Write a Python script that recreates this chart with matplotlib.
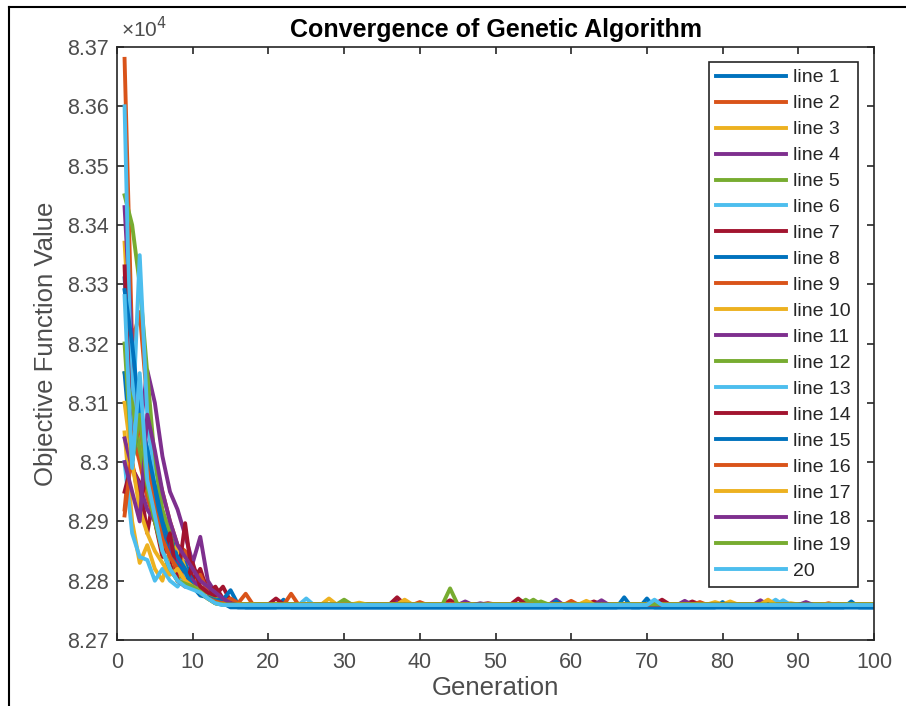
import matplotlib
matplotlib.use("Agg")
import matplotlib.pyplot as plt
from matplotlib.lines import Line2D
from matplotlib.ticker import FuncFormatter, MultipleLocator

# colour order of the lines (MATLAB default palette, repeats every 7)
colors = ["#0072BD", "#D95319", "#EDB120", "#7E2F8E", "#77AC30", "#4DBEEE", "#A2142F"]

generations = list(range(1, 101))
labels = ["line %d" % i for i in range(1, 20)] + ["20"]

# early part of each run (generation 1 onward)
early = [
    [83310, 83150, 83050, 83000, 82960, 82900, 82880, 82840, 82830, 82800, 82790, 82780, 82770, 82762, 82758],
    [83680, 83200, 83253, 83100, 83000, 82950, 82900, 82860, 82850, 82820, 82810, 82790, 82775, 82765, 82760],
    [83370, 83150, 83050, 82950, 82900, 82880, 82840, 82860, 82820, 82800, 82790, 82780, 82770, 82762],
    [83430, 83200, 83050, 83155, 83100, 83010, 82950, 82920, 82877, 82830, 82874, 82800, 82780, 82770, 82762],
    [83450, 83400, 83300, 83150, 83000, 82920, 82880, 82820, 82810, 82800, 82790, 82780, 82770, 82762],
    [83600, 83050, 83349, 83080, 82950, 82880, 82840, 82820, 82800, 82790, 82780, 82770, 82762],
    [83330, 82990, 82965, 82880, 82955, 82870, 82840, 82800, 82897, 82800, 82820, 82780, 82790, 82770, 82762],
    [83290, 83200, 83080, 83020, 82960, 82900, 82860, 82840, 82820, 82800, 82790, 82780, 82768, 82762],
    [82920, 83050, 83000, 82940, 82900, 82870, 82850, 82820, 82800, 82790, 82810, 82780, 82770, 82762],
    [83050, 82900, 82830, 82860, 82820, 82800, 82850, 82810, 82800, 82790, 82780, 82770, 82762],
    [83040, 82990, 82960, 82920, 82900, 82880, 82850, 82830, 82810, 82800, 82790, 82780, 82770, 82762],
    [83150, 83100, 83020, 82960, 82900, 82850, 82820, 82800, 82810, 82790, 82785, 82780, 82770, 82762],
    [83000, 82880, 82840, 82835, 82800, 82820, 82800, 82790, 82810, 82790, 82780, 82770, 82762],
    [82950, 83000, 82930, 82980, 82900, 82840, 82880, 82800, 82790, 82830, 82790, 82780, 82775, 82790, 82765],
    [83150, 83000, 83080, 83020, 82950, 82880, 82840, 82825, 82815, 82790, 82775, 82772, 82767, 82768, 82784, 82760],
    [82910, 83020, 83060, 82990, 82920, 82870, 82840, 82820, 82800, 82790, 82780, 82770, 82765, 82762, 82770, 82762, 82778],
    [83100, 83000, 82920, 82880, 82850, 82830, 82810, 82820, 82800, 82790, 82780, 82770, 82762],
    [83000, 82950, 82900, 83080, 83020, 82950, 82900, 82860, 82840, 82820, 82800, 82790, 82780, 82770, 82762],
    [83200, 83000, 83080, 82960, 82900, 82850, 82820, 82800, 82795, 82790, 82780, 82770, 82762],
    [83280, 82990, 83150, 82970, 82910, 82850, 82820, 82800, 82790, 82785, 82780, 82770, 82762],
]

# value each run settles at
final_vals = [82755, 82759, 82760, 82759, 82760, 82759, 82760,
              82755, 82759, 82760, 82759, 82760, 82759, 82760,
              82755, 82759, 82760, 82759, 82760, 82759]

# small late bumps: (generation, value) per run
bumps = [
    [(22, 82768), (80, 82764)],
    [(23, 82778), (60, 82766)],
    [(28, 82770), (79, 82764), (89, 82762)],
    [(37, 82768), (58, 82768), (85, 82767)],
    [(30, 82768), (55, 82768)],
    [(87, 82768)],
    [(37, 82772), (49, 82762), (63, 82765), (76, 82765)],
    [(58, 82765), (70, 82770)],
    [(40, 82764), (77, 82764)],
    [(38, 82768), (81, 82765)],
    [(46, 82765), (75, 82766)],
    [(54, 82768)],
    [(25, 82770), (88, 82767)],
    [(21, 82770), (44, 82767), (53, 82770), (72, 82768)],
    [(67, 82772), (97, 82765)],
    [(94, 82762)],
    [(32, 82763), (62, 82766), (86, 82768)],
    [(48, 82762), (64, 82767), (91, 82764)],
    [(44, 82787), (56, 82765)],
    [(71, 82768)],
]

fig = plt.figure(figsize=(9.06, 7.06), dpi=100)
plt.rcParams['font.family'] = ['Liberation Sans', 'DejaVu Sans']
ax = fig.add_axes([117 / 906, 1 - 640 / 706, 757 / 906, 593 / 706])

for i in range(20):
    ys = list(early[i]) + [final_vals[i]] * (100 - len(early[i]))
    for g, v in bumps[i]:
        if g > len(early[i]):
            ys[g - 1] = v
    ax.plot(generations, ys, color=colors[i % 7], lw=2.8, label=labels[i])

ax.set_xlim(0, 100)
ax.set_ylim(82700, 83700)
ax.xaxis.set_major_locator(MultipleLocator(10))
ax.yaxis.set_major_locator(MultipleLocator(100))
ax.yaxis.set_major_formatter(FuncFormatter(lambda v, p: "%g" % round(v / 1e4, 4)))

gray = "#262626"
for s in ax.spines.values():
    s.set_color(gray)
    s.set_linewidth(1.2)
ax.tick_params(direction="in", length=5, width=1.2, colors=gray, labelcolor="#4d4d4d",
               labelsize=15.5, top=True, right=True, pad=6)
ax.tick_params(axis="x", pad=9)

ax.set_xlabel("Generation", fontsize=18.5, color="#4d4d4d", labelpad=2)
ax.set_ylabel("Objective Function Value", fontsize=18.5, color="#4d4d4d", labelpad=6)
ax.set_title("Convergence of Genetic Algorithm", fontsize=18, fontweight="bold", color="black", pad=7)
ax.text(0.005, 1.01, "×10$^4$", transform=ax.transAxes, fontsize=15, color="#4d4d4d",
        ha="left", va="bottom")

leg = ax.legend(loc="upper right", bbox_to_anchor=((858 - 117) / 757, (640 - 62) / 593),
                fontsize=14, handlelength=3.6, labelspacing=0.43, handletextpad=0.4,
                borderpad=0.35, borderaxespad=0, fancybox=False, framealpha=1)
leg.get_frame().set_edgecolor(gray)
leg.get_frame().set_linewidth(1.2)
for t in leg.get_texts():
    t.set_color("#262626")

# screenshot border on top and left
fig.add_artist(Line2D([9 / 906, 1], [1 - 7 / 706, 1 - 7 / 706], color="black", lw=1.5,
                      transform=fig.transFigure))
fig.add_artist(Line2D([9 / 906, 9 / 906], [0, 1 - 7 / 706], color="black", lw=1.5,
                      transform=fig.transFigure))

fig.savefig("out.png", dpi=100, facecolor="white")
